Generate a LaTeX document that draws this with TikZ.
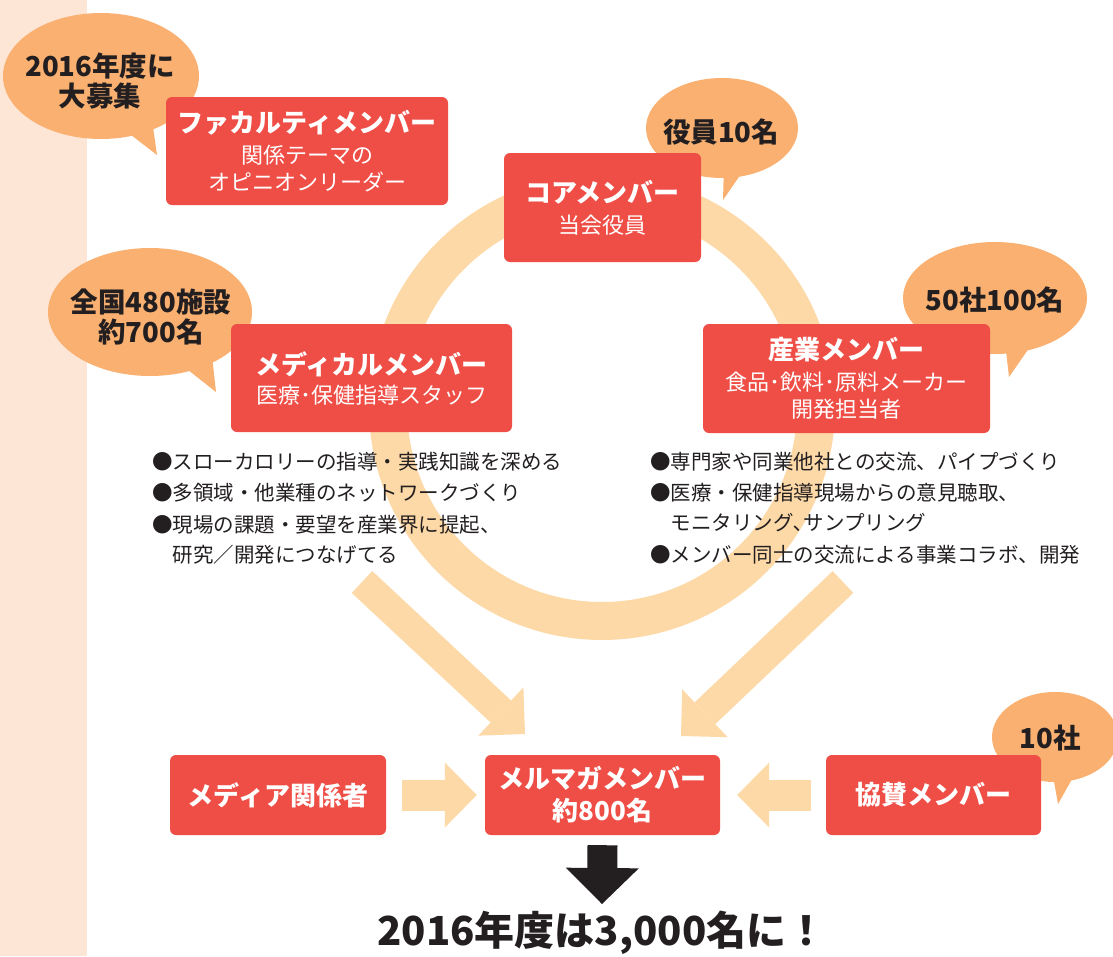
\documentclass[tikz,border=0pt]{standalone}
\usepackage{fontspec}
\setmainfont{Noto Sans CJK JP}
\usetikzlibrary{arrows.meta,shapes.geometric}
\definecolor{boxred}{RGB}{239,78,70}
\definecolor{bubbleor}{RGB}{249,176,112}
\definecolor{ringor}{RGB}{253,217,167}
\definecolor{stripc}{RGB}{253,230,214}
\definecolor{darktext}{RGB}{35,31,32}
\tikzset{
  box/.style={fill=boxred, rounded corners=6pt, text=white, align=center, inner sep=0pt,
    font=\fontsize{22}{27}\selectfont},
  bubble/.style={ellipse, fill=bubbleor, inner sep=0pt},
  bubbletext/.style={text=darktext, align=center, inner sep=0pt,
    font=\fontsize{27.5}{30}\selectfont\bfseries},
  bullettext/.style={text=darktext, anchor=west, inner sep=0pt,
    font=\fontsize{20.5}{24}\selectfont},
  bigarrow/.style={draw=ringor, line width=30pt,
    -{Triangle[width=66pt,length=33pt,line width=0pt]}},
  sidearrow/.style={draw=ringor, line width=31pt,
    -{Triangle[width=65pt,length=32pt,line width=0pt]}},
  downarrow/.style={draw=darktext, line width=30pt,
    -{Triangle[width=73pt,length=36pt,line width=0pt]}},
}
\newcommand{\ttl}{\fontsize{26}{30}\selectfont\bfseries}
\begin{document}
\begin{tikzpicture}[x=1pt,y=-1pt]
\useasboundingbox (0,0) rectangle (1113,956);
\fill[white] (0,0) rectangle (1113,956);
\fill[stripc] (0,0) rectangle (87,956);

% ring
\coordinate (ringc) at (602,407);
\draw[ringor, line width=38pt] (ringc) circle[radius=214];

% bubbles (behind boxes)
\node[bubble, minimum width=196pt, minimum height=126pt] (b1) at (101,76) {};
\fill[bubbleor] (122,128) -- (152,120) -- (157,155) -- cycle;
\node[bubbletext] (b1t) at (100,81) {2016年度に\\大募集};

\node[bubble, minimum width=152pt, minimum height=100pt] (b2) at (722,128) {};
\fill[bubbleor] (724,165) -- (752,158) -- (723,200) -- cycle;
\node[bubbletext] (b2t) at (721,132) {役員10名};

\node[bubble, minimum width=204pt, minimum height=128pt] (b3) at (150,312) {};
\fill[bubbleor] (178,362) -- (212,356) -- (216,392) -- cycle;
\node[bubbletext] (b3t) at (151,317) {全国480施設\\約700名};

\node[bubble, minimum width=184pt, minimum height=112pt] (b4) at (995,298) {};
\fill[bubbleor] (1005,342) -- (1036,338) -- (1009,377) -- cycle;
\node[bubbletext] (b4t) at (995,300) {50社100名};

\node[bubble, minimum width=126pt, minimum height=90pt] (b5) at (1055,737) {};
\fill[bubbleor] (1052,770) -- (1080,765) -- (1058,804) -- cycle;
\node[bubbletext] (b5t) at (1050,738) {10社};

% boxes
\node[box, minimum width=282pt, minimum height=108pt] (fac) at (307,151)
  {{\ttl ファカルティメンバー}\\[4pt]関係テーマの\\オピニオンリーダー};
\node[box, minimum width=197pt, minimum height=109pt] (core) at (602.5,207.5)
  {{\ttl コアメンバー}\\[4pt]当会役員};
\node[box, minimum width=281pt, minimum height=108pt] (med) at (371.5,378)
  {{\ttl メディカルメンバー}\\[2pt]医療･保健指導スタッフ};
\node[box, minimum width=287pt, minimum height=109pt] (ind) at (846.5,378.5)
  {{\ttl 産業メンバー}\\[4pt]食品･飲料･原料メーカー\\開発担当者};
\node[box, minimum width=216pt, minimum height=80pt, font=\ttl] (media) at (278,795)
  {メディア関係者};
\node[box, minimum width=235pt, minimum height=80pt, font=\fontsize{26}{32}\selectfont\bfseries] (mail) at (602.5,795)
  {メルマガメンバー\\約800名};
\node[box, minimum width=215pt, minimum height=80pt, font=\ttl] (spon) at (933.5,795)
  {協賛メンバー};

% bullets left
\node[bullettext] (l1) at (152,462) {●スローカロリーの指導・実践知識を深める};
\node[bullettext] (l2) at (152,493) {●多領域・他業種のネットワークづくり};
\node[bullettext] (l3) at (152,525) {●現場の課題・要望を産業界に提起、};
\node[bullettext] (l4) at (152,555) {\phantom{●}研究／開発につなげてる};
% bullets right
\node[bullettext] (r1) at (650,462) {●専門家や同業他社との交流、パイプづくり};
\node[bullettext] (r2) at (650,493) {●医療・保健指導現場からの意見聴取、};
\node[bullettext] (r3) at (650,523) {\phantom{●}モニタリング､サンプリング};
\node[bullettext] (r4) at (650,555) {●メンバー同士の交流による事業コラボ、開発};

% big arrows
\coordinate (ls) at (362,582);
\coordinate (lt) at (525,734);
\coordinate (rs) at (843,582);
\coordinate (rt) at (681,736);
\draw[bigarrow] (ls) -- (lt);
\draw[bigarrow] (rs) -- (rt);
\draw[sidearrow] ([xshift=16pt]media.east) -- ([xshift=-8pt]mail.west);
\draw[sidearrow] ([xshift=-15pt]spon.west) -- ([xshift=17pt]mail.east);

% result
\node[text=darktext, inner sep=0pt, font=\fontsize{40}{44}\selectfont\bfseries] (res) at (602,933)
  {2016年度は3,000名に！};
\coordinate (dt) at (602,904);
\draw[downarrow] ([yshift=-10pt]mail.south) -- (dt);
\end{tikzpicture}
\end{document}
